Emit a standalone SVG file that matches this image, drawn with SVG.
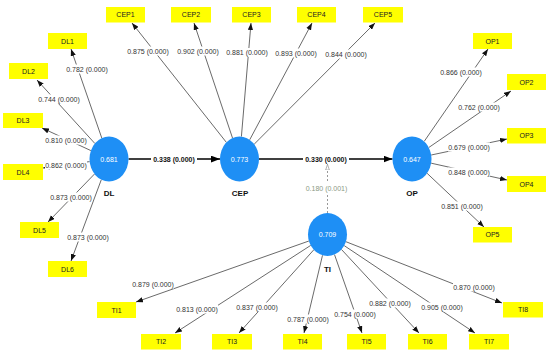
<svg xmlns="http://www.w3.org/2000/svg" width="550" height="356" viewBox="0 0 550 356">
<style>
.ind rect{fill:#ffff00}
.ind text{font-family:"Liberation Sans",Arial,sans-serif;font-size:7px;fill:#222;text-anchor:middle}
.lat ellipse{fill:#1e8ff5}
.lat .v{font-family:"Liberation Sans",Arial,sans-serif;font-size:7px;fill:#fff;text-anchor:middle}
.lat .n{font-family:"Liberation Sans",Arial,sans-serif;font-size:8px;font-weight:bold;fill:#111;text-anchor:middle}
.ld{stroke:#444;stroke-width:0.8;fill:none;marker-end:url(#ah)}
.st{stroke:#000;stroke-width:1.4;fill:none;marker-end:url(#ahb)}
.lb rect{fill:#fff}
.lb text{font-family:"Liberation Sans",Arial,sans-serif;font-size:7px;fill:#333;text-anchor:middle}
.lb .b{font-weight:bold;fill:#111}
.lb .g{fill:#8a9a84}
</style>
<defs>
<marker id="ah" viewBox="0 0 8 6" refX="8" refY="3" markerWidth="7" markerHeight="5.5" markerUnits="userSpaceOnUse" orient="auto"><path d="M0,0 L8,3 L0,6 z" fill="#111"/></marker>
<marker id="ahb" viewBox="0 0 8 6" refX="8" refY="3" markerWidth="9" markerHeight="7" markerUnits="userSpaceOnUse" orient="auto"><path d="M0,0 L8,3 L0,6 z" fill="#000"/></marker>
<marker id="aho" viewBox="0 0 8 6" refX="8" refY="3" markerWidth="6" markerHeight="5" markerUnits="userSpaceOnUse" orient="auto"><path d="M0,0.5 L7.5,3 L0,5.5 z" fill="#fff" stroke="#999" stroke-width="1"/></marker>
</defs>
<rect x="0" y="0" width="550" height="356" fill="#fff"/>
<g id="connectors">
<line class="ld" x1="101.8" y1="138.1" x2="71" y2="49"/>
<line class="ld" x1="94.9" y1="143.5" x2="37" y2="80"/>
<line class="ld" x1="90.9" y1="150.6" x2="42" y2="128"/>
<line class="ld" x1="89.6" y1="161.6" x2="43" y2="168"/>
<line class="ld" x1="94.5" y1="174" x2="48" y2="222"/>
<line class="ld" x1="101.3" y1="179.7" x2="71" y2="261"/>
<line class="ld" x1="226.4" y1="142.4" x2="132" y2="23"/>
<line class="ld" x1="232.5" y1="138" x2="194" y2="23"/>
<line class="ld" x1="241.4" y1="136.6" x2="251" y2="23"/>
<line class="ld" x1="249.7" y1="139.8" x2="312" y2="23"/>
<line class="ld" x1="254.2" y1="144.2" x2="375" y2="23"/>
<line class="ld" x1="424.2" y1="141.4" x2="488" y2="49"/>
<line class="ld" x1="428.8" y1="147.5" x2="511" y2="91"/>
<line class="ld" x1="431.2" y1="155" x2="507" y2="139"/>
<line class="ld" x1="431.2" y1="163.2" x2="507" y2="180"/>
<line class="ld" x1="427.1" y1="173.3" x2="484" y2="227"/>
<line class="ld" x1="308.9" y1="241" x2="136" y2="302"/>
<line class="ld" x1="310.7" y1="245.4" x2="175" y2="333"/>
<line class="ld" x1="313.8" y1="249.8" x2="239" y2="333"/>
<line class="ld" x1="322.5" y1="255.3" x2="304" y2="333"/>
<line class="ld" x1="334.5" y1="254.6" x2="362" y2="333"/>
<line class="ld" x1="341.5" y1="249.5" x2="419" y2="333"/>
<line class="ld" x1="344.2" y1="245.6" x2="475" y2="333"/>
<line class="ld" x1="345.9" y1="241.7" x2="502" y2="303"/>
<line class="st" x1="128.5" y1="159" x2="220" y2="159"/>
<line class="st" x1="259" y1="159" x2="392.5" y2="159"/>
<line x1="327.5" y1="213" x2="327.5" y2="164" stroke="#999" stroke-width="1" stroke-dasharray="2,2" marker-end="url(#aho)"/>
</g>
<g id="labels" class="lb">
<rect x="66" y="64.5" width="42" height="9"/><text x="87" y="71.5">0.782 (0.000)</text>
<rect x="38" y="94.5" width="42" height="9"/><text x="59" y="101.5">0.744 (0.000)</text>
<rect x="45" y="135.5" width="42" height="9"/><text x="66" y="142.5">0.810 (0.000)</text>
<rect x="45" y="160.5" width="42" height="9"/><text x="66" y="167.5">0.862 (0.000)</text>
<rect x="50" y="192.5" width="42" height="9"/><text x="71" y="199.5">0.873 (0.000)</text>
<rect x="67" y="232.5" width="42" height="9"/><text x="88" y="239.5">0.873 (0.000)</text>
<rect x="127" y="46.5" width="42" height="9"/><text x="148" y="53.5">0.875 (0.000)</text>
<rect x="177" y="46.5" width="42" height="9"/><text x="198" y="53.5">0.902 (0.000)</text>
<rect x="226" y="48" width="42" height="9"/><text x="247" y="55">0.881 (0.000)</text>
<rect x="275" y="48.5" width="42" height="9"/><text x="296" y="55.5">0.893 (0.000)</text>
<rect x="325" y="49.5" width="42" height="9"/><text x="346" y="56.5">0.844 (0.000)</text>
<rect x="440" y="67.5" width="42" height="9"/><text x="461" y="74.5">0.866 (0.000)</text>
<rect x="458" y="102.5" width="42" height="9"/><text x="479" y="109.5">0.762 (0.000)</text>
<rect x="448" y="142.5" width="42" height="9"/><text x="469" y="149.5">0.679 (0.000)</text>
<rect x="448" y="167.5" width="42" height="9"/><text x="469" y="174.5">0.848 (0.000)</text>
<rect x="441" y="201.5" width="42" height="9"/><text x="462" y="208.5">0.851 (0.000)</text>
<rect x="132" y="279.5" width="42" height="9"/><text x="153" y="286.5">0.879 (0.000)</text>
<rect x="176" y="304.5" width="42" height="9"/><text x="197" y="311.5">0.813 (0.000)</text>
<rect x="236" y="302.5" width="42" height="9"/><text x="257" y="309.5">0.837 (0.000)</text>
<rect x="287" y="314.5" width="42" height="9"/><text x="308" y="321.5">0.787 (0.000)</text>
<rect x="334" y="309.5" width="42" height="9"/><text x="355" y="316.5">0.754 (0.000)</text>
<rect x="369" y="298.5" width="42" height="9"/><text x="390" y="305.5">0.882 (0.000)</text>
<rect x="421" y="302.5" width="42" height="9"/><text x="442" y="309.5">0.905 (0.000)</text>
<rect x="453" y="282.5" width="42" height="9"/><text x="474" y="289.5">0.870 (0.000)</text>
<rect x="151" y="154" width="46" height="10"/><text class="b" x="174" y="161.5">0.338 (0.000)</text>
<rect x="303" y="154" width="46" height="10"/><text class="b" x="326" y="161.5">0.330 (0.000)</text>
<rect x="304" y="183" width="45" height="10"/><text class="g" x="326.5" y="190.5">0.180 (0.001)</text>
</g>
<g id="DL" class="lat"><ellipse cx="109" cy="159" rx="19.5" ry="22.5"/><text class="v" x="109" y="161.5">0.681</text><text class="n" x="109" y="196">DL</text></g>
<g id="CEP" class="lat"><ellipse cx="239.5" cy="159" rx="19.5" ry="22.5"/><text class="v" x="239.5" y="161.5">0.773</text><text class="n" x="240" y="196">CEP</text></g>
<g id="OP" class="lat"><ellipse cx="412" cy="159" rx="19.5" ry="22.5"/><text class="v" x="412" y="161.5">0.647</text><text class="n" x="412" y="196">OP</text></g>
<g id="TI" class="lat"><ellipse cx="327.5" cy="234.5" rx="19.5" ry="21.5"/><text class="v" x="327.5" y="237">0.709</text><text class="n" x="327.5" y="272">TI</text></g>
<g id="DL1" class="ind"><rect x="48" y="33" width="39" height="16"/><text x="67.5" y="43.5">DL1</text></g>
<g id="DL2" class="ind"><rect x="9" y="63" width="39" height="16"/><text x="28.5" y="73.5">DL2</text></g>
<g id="DL3" class="ind"><rect x="3" y="113" width="40" height="15"/><text x="23" y="123">DL3</text></g>
<g id="DL4" class="ind"><rect x="3" y="164" width="40" height="16"/><text x="23" y="174.5">DL4</text></g>
<g id="DL5" class="ind"><rect x="20" y="222" width="39" height="16"/><text x="39.5" y="232.5">DL5</text></g>
<g id="DL6" class="ind"><rect x="48" y="261" width="39" height="16"/><text x="67.5" y="271.5">DL6</text></g>
<g id="CEP1" class="ind"><rect x="106" y="7" width="39" height="15.5"/><text x="125.5" y="17.3">CEP1</text></g>
<g id="CEP2" class="ind"><rect x="171" y="7" width="40" height="15.5"/><text x="191" y="17.3">CEP2</text></g>
<g id="CEP3" class="ind"><rect x="232" y="7" width="39" height="15.5"/><text x="251.5" y="17.3">CEP3</text></g>
<g id="CEP4" class="ind"><rect x="297" y="7" width="39" height="15.5"/><text x="316.5" y="17.3">CEP4</text></g>
<g id="CEP5" class="ind"><rect x="363" y="7" width="40" height="15.5"/><text x="383" y="17.3">CEP5</text></g>
<g id="OP1" class="ind"><rect x="473" y="33" width="39" height="16"/><text x="492.5" y="43.5">OP1</text></g>
<g id="OP2" class="ind"><rect x="507" y="74" width="39" height="16"/><text x="526.5" y="84.5">OP2</text></g>
<g id="OP3" class="ind"><rect x="507" y="128" width="39" height="15.5"/><text x="526.5" y="138.3">OP3</text></g>
<g id="OP4" class="ind"><rect x="507" y="176" width="39" height="16"/><text x="526.5" y="186.5">OP4</text></g>
<g id="OP5" class="ind"><rect x="473" y="227" width="39" height="15.5"/><text x="492.5" y="237.3">OP5</text></g>
<g id="TI1" class="ind"><rect x="97" y="302" width="39" height="16"/><text x="116.5" y="312.5">TI1</text></g>
<g id="TI2" class="ind"><rect x="141" y="334" width="40" height="15.5"/><text x="161" y="344.3">TI2</text></g>
<g id="TI3" class="ind"><rect x="212" y="334" width="40" height="15.5"/><text x="232" y="344.3">TI3</text></g>
<g id="TI4" class="ind"><rect x="283" y="334" width="39" height="15.5"/><text x="302.5" y="344.3">TI4</text></g>
<g id="TI5" class="ind"><rect x="347" y="334" width="39" height="15.5"/><text x="366.5" y="344.3">TI5</text></g>
<g id="TI6" class="ind"><rect x="408" y="334" width="39" height="15.5"/><text x="427.5" y="344.3">TI6</text></g>
<g id="TI7" class="ind"><rect x="469" y="334" width="40" height="15.5"/><text x="489" y="344.3">TI7</text></g>
<g id="TI8" class="ind"><rect x="503" y="302" width="40" height="15.5"/><text x="523" y="312.3">TI8</text></g>
</svg>
